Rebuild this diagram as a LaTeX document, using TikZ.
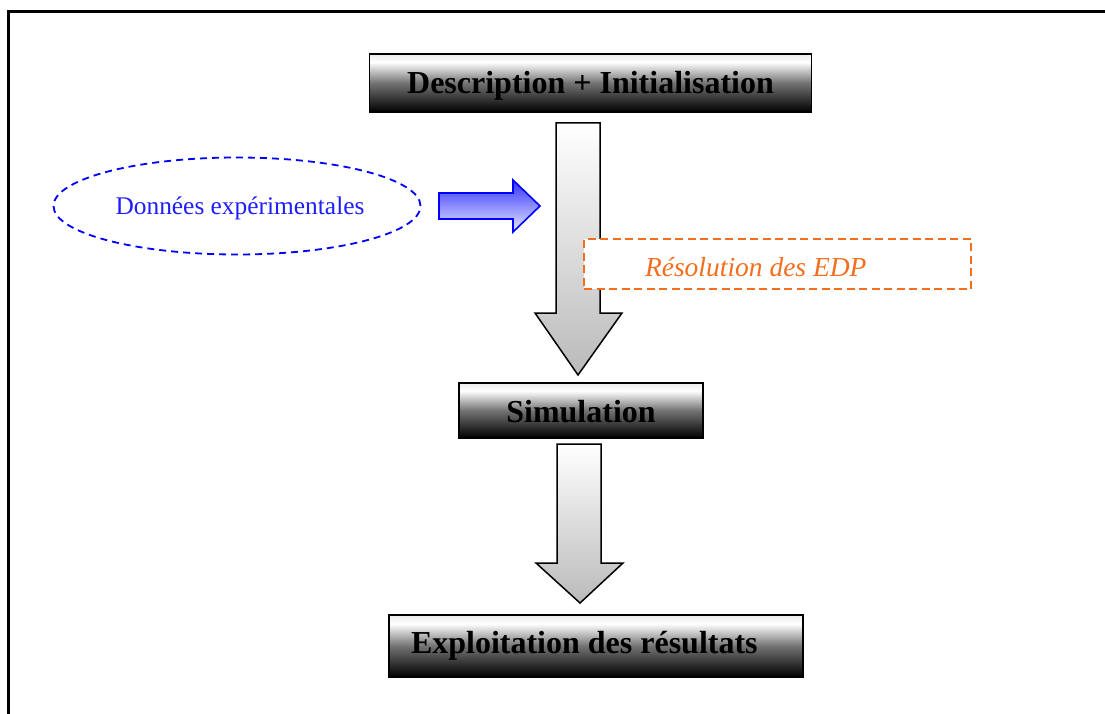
\documentclass[tikz,border=0pt]{standalone}
\usepackage{fontspec}
\setmainfont{Liberation Serif}
\usetikzlibrary{shapes.geometric}
\definecolor{edporange}{RGB}{245,110,30}
\definecolor{arrowblue}{RGB}{50,50,255}
\definecolor{arrowpale}{RGB}{232,232,255}
\definecolor{datablue}{RGB}{30,30,255}
\pgfdeclareverticalshading{boxshade}{100bp}{color(0bp)=(black); color(25bp)=(black); color(50bp)=(black!55); color(68bp)=(white); color(75bp)=(white!92!black); color(100bp)=(white!92!black)}
\newcommand{\lowerby}[2]{\raisebox{-#1}[\height][\depth]{#2}}
\begin{document}
\begin{tikzpicture}[x=1pt,y=-1pt,
  stagebox/.style={draw=black, line width=1.8pt, shading=boxshade, inner sep=0pt,
    font=\fontsize{32}{38}\selectfont\bfseries},
  bigarrow/.style={draw=black, line width=1.5pt, top color=white, bottom color=black!27},
  bluearrow/.style={draw=blue, line width=1.6pt, top color=arrowblue, bottom color=arrowpale},
  dataellipse/.style={ellipse, draw=blue, line width=1.8pt, dash pattern=on 7pt off 5pt,
    inner sep=0pt, text=datablue, font=\fontsize{25.4}{30}\selectfont},
  edpbox/.style={draw=edporange, fill=white, line width=1.8pt, dash pattern=on 8pt off 4.5pt,
    inner sep=0pt, text=edporange, font=\fontsize{27.5}{32}\selectfont\itshape}]
\useasboundingbox (0,0) rectangle (1105,714);
% frame
\draw[line width=2.2pt] (8.5,714) -- (8.5,11.5) -- (1105,11.5);

% stage boxes
\node[stagebox, minimum width=442pt, minimum height=58pt] (desc) at (590.5,83)
  {\lowerby{3pt}{Description + Initialisation}};
\node[stagebox, minimum width=244pt, minimum height=55pt] (sim) at (581,410.5)
  {\lowerby{1pt}{Simulation}};
\node[stagebox, minimum width=414pt, minimum height=62pt] (expl) at (596,646)
  {\makebox[414pt][l]{\hspace{22pt}Exploitation des résultats}};

% big arrow 1 (desc -> sim)
\draw[bigarrow] (556,123) -- (600,123) -- (600,313) -- (622,313) -- (578,375)
  -- (535,313) -- (556,313) -- cycle;
% big arrow 2 (sim -> expl)
\draw[bigarrow] (557,444) -- (601,444) -- (601,563) -- (623,563) -- (580,603)
  -- (536,563) -- (557,563) -- cycle;

% experimental data
\node[dataellipse, minimum width=367pt, minimum height=97pt] (data) at (237,206)
  {\hspace{6pt}\lowerby{2pt}{Données expérimentales}};
\draw[bluearrow] (439,193) -- (513,193) -- (513,180) -- (540,206) -- (513,232)
  -- (513,219) -- (439,219) -- cycle;

% EDP box
\node[edpbox, minimum width=387pt, minimum height=50pt] (edp) at (777.5,264)
  {\makebox[387pt][l]{\hspace{61pt}\lowerby{3pt}{Résolution des EDP}}};
\end{tikzpicture}
\end{document}
